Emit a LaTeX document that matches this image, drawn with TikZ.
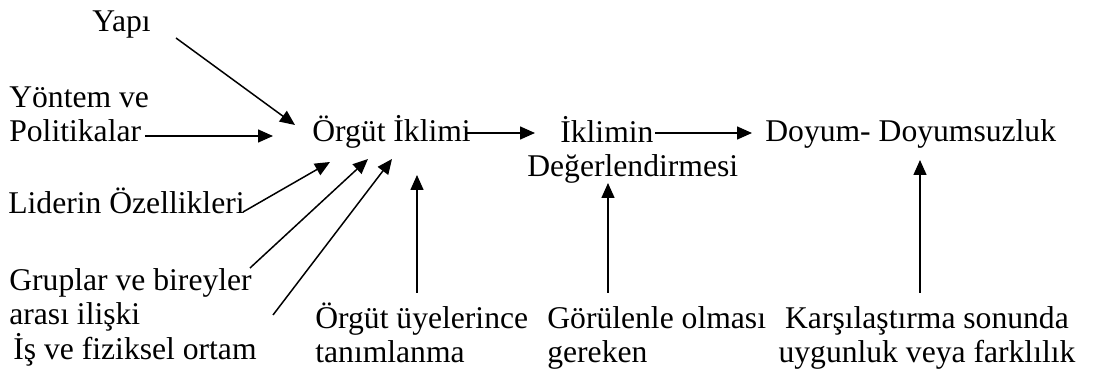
\documentclass[tikz,border=0pt]{standalone}
\usepackage{fontspec}
\setmainfont{Liberation Serif}
\usetikzlibrary{arrows.meta}

\tikzset{
  metin/.style={inner sep=0pt, anchor=base west, align=left,
    font=\fontsize{18}{19.9}\selectfont},
  ok/.style={-{Triangle[length=0.3cm,width=0.26cm]}, line width=0.85pt}
}

\begin{document}
\begin{tikzpicture}[x=0.02cm, y=-0.02cm]
  \useasboundingbox (0,0) rectangle (1093,371);
  % Etkenler (sol)
  \node[metin] (yapi) at (92,32) {Yapı};
  \node[metin] (yontem) at (9,142) {Yöntem ve\\Politikalar};
  \node[metin] (lider) at (8,214) {Liderin Özellikleri};
  \node[metin] (grup) at (9,325) {Gruplar ve bireyler\\arası ilişki};
  \node[metin] (ortam) at (13,360) {İş ve fiziksel ortam};
  % Ana zincir
  \node[metin] (orgut) at (312,142) {Örgüt İklimi};
  \node[metin] (iklimin) at (527,177) {\hspace*{0.66cm}İklimin\\Değerlendirmesi};
  \node[metin] (doyum) at (765,142) {Doyum- Doyumsuzluk};
  % Alt açıklamalar
  \node[metin] (uye) at (315,363) {Örgüt üyelerince\\tanımlanma};
  \node[metin] (gorulen) at (547,363) {Görülenle olması\\gereken};
  \node[metin, anchor=base, align=center] (karsi) at (927,363)
    {Karşılaştırma sonunda\\uygunluk veya farklılık};

  % Okların uçları
  \coordinate (Y1) at (176,38);
  \coordinate (Y2) at (295,125);
  \coordinate (P1) at (145,136);
  \coordinate (P2) at (273,136);
  \coordinate (L1) at (243,212);
  \coordinate (L2) at (330,162);
  \coordinate (G1) at (250,268);
  \coordinate (G2) at (368,159);
  \coordinate (I1) at (273,315);
  \coordinate (I2) at (392,159);
  \coordinate (O1) at (467,133);
  \coordinate (O2) at (535,133);
  \coordinate (D1) at (655,133);
  \coordinate (D2) at (752,133);
  \coordinate (U1) at (417,293);
  \coordinate (U2) at (417,175);
  \coordinate (R1) at (608,293);
  \coordinate (R2) at (608,183);
  \coordinate (K1) at (920,293);
  \coordinate (K2) at (920,160);

  \draw[ok] (Y1) -- (Y2);
  \draw[ok] (P1) -- (P2);
  \draw[ok] (L1) -- (L2);
  \draw[ok] (G1) -- (G2);
  \draw[ok] (I1) -- (I2);
  \draw[ok] (O1) -- (O2);
  \draw[ok] (D1) -- (D2);
  \draw[ok] (U1) -- (U2);
  \draw[ok] (R1) -- (R2);
  \draw[ok] (K1) -- (K2);
\end{tikzpicture}
\end{document}
